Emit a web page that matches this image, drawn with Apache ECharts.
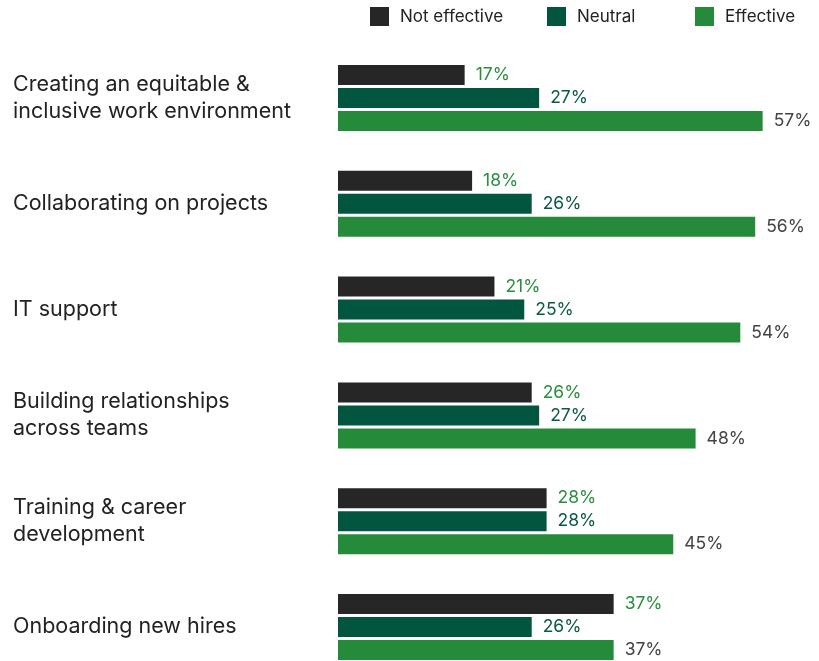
<!DOCTYPE html>
<html>
<head>
<meta charset="utf-8">
<script src="https://cdn.jsdelivr.net/npm/echarts@6/dist/echarts.min.js"></script>
<style>
  html, body { margin: 0; padding: 0; background: #fff; }
  #chart { width: 819px; height: 661px; }
</style>
</head>
<body>
<div id="chart"></div>
<script>
const categories = [
  'Creating an equitable &\ninclusive work environment',
  'Collaborating on projects',
  'IT support',
  'Building relationships\nacross teams',
  'Training & career\ndevelopment',
  'Onboarding new hires'
];
const notEffective = [17, 18, 21, 26, 28, 37];
const neutral = [27, 26, 25, 27, 28, 26];
const effective = [57, 56, 54, 48, 45, 37];

const font = 'Inter';

function mkSeries (name, data, color, labelColor) {
  return {
    name: name,
    type: 'bar',
    data: data,
    barWidth: 20,
    barGap: '15%',
    itemStyle: { color: color },
    label: {
      show: true,
      position: 'right',
      distance: 11,
      formatter: '{c}%',
      color: labelColor,
      fontFamily: font,
      fontSize: 17.5
    }
  };
}

function mkLegend (name, left) {
  return {
    data: [name],
    left: left,
    top: 2,
    icon: 'rect',
    itemWidth: 19,
    itemHeight: 19,
    textStyle: { fontFamily: font, fontSize: 17, color: '#222', padding: [0, 0, 0, 6] }
  };
}

const chart = echarts.init(document.getElementById('chart'));
chart.setOption({
  animation: false,
  legend: [
    mkLegend('Not effective', 365),
    mkLegend('Neutral', 542),
    mkLegend('Effective', 690)
  ],
  // category ticks sit on the grid edges (boundaryGap false) so the last group can reach the bottom
  grid: { left: 338, top: 98, width: 447, height: 529 },
  xAxis: {
    type: 'value',
    min: 0,
    max: 60,
    show: false
  },
  yAxis: {
    type: 'category',
    data: categories,
    inverse: true,
    boundaryGap: false,
    axisLine: { show: false },
    axisTick: { show: false },
    splitLine: { show: false },
    axisLabel: {
      align: 'left',
      margin: 325,
      fontFamily: font,
      fontSize: 21.5,
      lineHeight: 27,
      color: '#222'
    }
  },
  series: [
    mkSeries('Not effective', notEffective, '#262626', '#2a8f3d'),
    mkSeries('Neutral', neutral, '#02553f', '#0b5a46'),
    mkSeries('Effective', effective, '#258b3a', '#444444')
  ]
});
</script>
</body>
</html>
